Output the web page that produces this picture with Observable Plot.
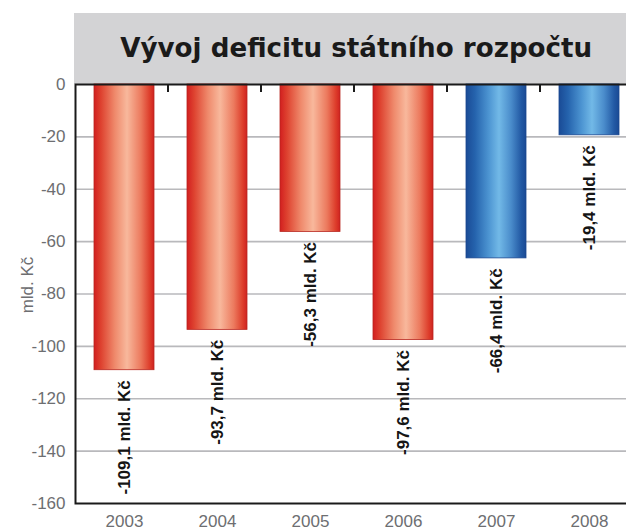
<!DOCTYPE html>
<html><head><meta charset="utf-8">
<script src="https://cdn.jsdelivr.net/npm/d3@7"></script>
<script src="https://cdn.jsdelivr.net/npm/@observablehq/plot@0.6"></script>
<style>html,body{margin:0;padding:0;background:#fff;overflow:hidden;}</style>
</head><body><div id="chart"></div>
<script>
const years = ["2003", "2004", "2005", "2006", "2007", "2008"];
const values = [-109.1, -93.7, -56.3, -97.6, -66.4, -19.4];
const planned = [false, false, false, false, true, true];
const yTicks = [0, -20, -40, -60, -80, -100, -120, -140, -160];
const gridTicks = [-20, -40, -60, -80, -100, -120, -140];
const title = "Vývoj deficitu státního rozpočtu";
const yLabel = "mld. Kč";
const unit = "mld. Kč";

const data = years.map((y, i) => ({year: y, value: values[i], planned: planned[i]}));
const fmt = v => v.toFixed(1).replace(".", ",") + " " + unit;

const W = 640, H = 532, mL = 75, mR = 2.5, mT = 84, mB = 29;

const chart = Plot.plot({
  width: W, height: H,
  marginTop: mT, marginBottom: mB, marginLeft: mL, marginRight: mR,
  style: {fontFamily: "'Liberation Sans', Arial, sans-serif", fontSize: "17px", color: "#6d6e71", background: "transparent", maxWidth: "none", overflow: "visible"},
  x: {domain: years, paddingInner: 0.36, paddingOuter: 0.18, tickSize: 0, tickPadding: 11, label: null},
  y: {domain: [-160, 0], ticks: yTicks, tickSize: 0, tickPadding: 10, tickFormat: d => String(d), label: null},
  marks: [
    Plot.ruleY(gridTicks, {stroke: "#b9b9bc", strokeWidth: 1.6}),
    Plot.barY(data.filter(d => !d.planned), {x: "year", y: "value", fill: "url(#gradRed)", stroke: "#b8261f", strokeWidth: 0.8}),
    Plot.barY(data.filter(d => d.planned), {x: "year", y: "value", fill: "url(#gradBlue)", stroke: "#1a4790", strokeWidth: 0.8}),
    Plot.text(data, {x: "year", y: "value", text: d => fmt(d.value), rotate: -90, textAnchor: "end", lineAnchor: "middle", dy: 10, fontWeight: "bold", fontSize: 17, fill: "#151515"}),
    Plot.text([yLabel], {frameAnchor: "left", text: d => d, rotate: -90, dx: -48, dy: -9, textAnchor: "middle", lineAnchor: "middle", fontSize: 17, fill: "#6d6e71"}),
    Plot.frame({stroke: "#1a1a1a", strokeWidth: 2})
  ]
});

const svg = d3.select(chart);
const defs = svg.insert("defs", ":first-child");
function grad(id, stops) {
  const g = defs.append("linearGradient").attr("id", id).attr("x1", "0").attr("x2", "1").attr("y1", "0").attr("y2", "0");
  stops.forEach(([o, c]) => g.append("stop").attr("offset", o).attr("stop-color", c));
}
grad("gradRed", [[0, "#d21f1f"], [0.12, "#de4330"], [0.35, "#ef8a6c"], [0.55, "#f8b89c"], [0.78, "#ec7a5e"], [0.93, "#dd3d2b"], [1, "#cf2220"]]);
grad("gradBlue", [[0, "#1a4b96"], [0.15, "#2563ad"], [0.38, "#4d95d2"], [0.55, "#72b9e7"], [0.75, "#4a8ccb"], [0.92, "#2259a4"], [1, "#1a4a94"]]);

const head = svg.insert("g", "defs + *");
head.append("rect").attr("x", 74).attr("y", 13).attr("width", W - 74).attr("height", mT - 13).attr("fill", "#d3d3d5");
head.append("text").attr("x", mL + (W - mL - mR) / 2).attr("y", 57).attr("text-anchor", "middle")
  .attr("font-family", "'DejaVu Sans', 'Liberation Sans', Arial, sans-serif").attr("font-weight", "bold").attr("font-size", 27)
  .attr("fill", "#1a1a1a").attr("textLength", 472).attr("lengthAdjust", "spacingAndGlyphs").text(title);

// small tick marks under the zero line, at the band boundaries (from Plot's x and y scales)
const xs = chart.scale("x"), ys = chart.scale("y");
const x0 = Math.min(...xs.range);
const step = xs.step != null ? xs.step : (Math.abs(xs.range[1] - xs.range[0]) / years.length);
const yTop = Math.min(...ys.range);
const tg = svg.append("g").attr("stroke", "#1a1a1a").attr("stroke-width", 2);
for (let i = 1; i < years.length; i++) {
  const bx = x0 + i * step;
  tg.append("line").attr("x1", bx).attr("x2", bx).attr("y1", yTop).attr("y2", yTop + 8);
}

document.getElementById("chart").appendChild(chart);
</script>
</body></html>
